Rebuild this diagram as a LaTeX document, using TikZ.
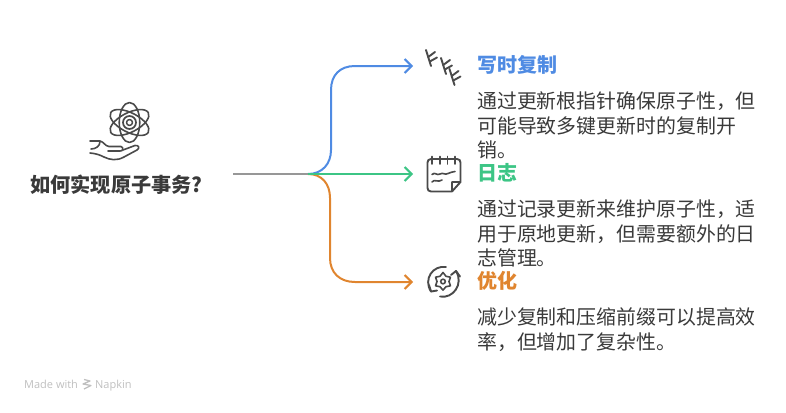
\documentclass[tikz,border=0pt]{standalone}
\usepackage{fontspec}
\setmainfont{Noto Sans CJK SC}
\newfontfamily\wm{Open Sans}
\usetikzlibrary{arrows.meta}
\definecolor{cblue}{HTML}{4F8BE3}
\definecolor{cgreen}{HTML}{3CC585}
\definecolor{corange}{HTML}{E0852F}
\definecolor{cgrey}{HTML}{979797}
\definecolor{ctext}{HTML}{3A3A3A}
\definecolor{cicon}{HTML}{4A4A4A}
\tikzset{
 conn/.style={line width=2pt,-{Straight Barb[length=7pt,width=14pt,line width=2pt]}},
 head/.style={anchor=west,font=\fontsize{20}{20}\selectfont\bfseries,inner sep=0pt},
 body/.style={anchor=north west,align=left,text=ctext,font=\fontsize{19.9}{24.6}\selectfont,inner sep=0pt},
 icon/.style={draw=cicon,line width=1.9pt,line cap=round,line join=round,fill=none},
 iconthin/.style={draw=cicon,line width=1.6pt,line cap=round,line join=round,fill=none},
}
\begin{document}
\begin{tikzpicture}[x=1pt,y=-1pt]
\useasboundingbox (0,0) rectangle (786,412);
\coordinate (src) at (233,174);
\coordinate (fork) at (308,174);
\coordinate (t1) at (413,66);
\coordinate (t2) at (413,174);
\coordinate (t3) at (413,282);
\draw[cgrey,line width=2pt] (src) -- (fork);
\draw[conn,draw=corange] (fork) .. controls (322,174) and (330,184) .. (330,198) -- (330,258) .. controls (330,273) and (340,282) .. (355,282) -- (t3);
\draw[conn,draw=cblue] (fork) .. controls (322,174) and (331,164) .. (331,150) -- (331,90) .. controls (331,75) and (340,66) .. (355,66) -- (t1);
\draw[conn,draw=cgreen] (fork) -- (t2);
\node[anchor=center,inner sep=0pt,text=ctext,font=\fontsize{20.2}{20}\selectfont\bfseries] (q) at (116.5,184.5) {如何实现原子事务?};
% atom icon
\begin{scope}[shift={(129.5,122.5)},xscale=1.08]
\foreach \a in {30,90,150}{\draw[icon,rotate=\a,line width=1.6pt] (0,0) ellipse (20 and 9.5);}
\end{scope}
\draw[icon,line width=1.7pt] (129.5,122.5) circle (6.5);
\draw[icon,line width=1.5pt] (129.5,122.5) circle (3);
% hand icon
\draw[icon,line width=1.6pt] (90,141) -- (100,141) .. controls (104,142) and (105,146) .. (109,146.5) -- (121,146.5) .. controls (124,147.5) and (123,151.5) .. (120,151) -- (108,151);
\draw[icon,line width=1.6pt] (123,150) -- (135,145.5) .. controls (139,145) and (140,148) .. (137,150) -- (124,157) .. controls (117,161) and (110,160) .. (104,157) .. controls (100,155) and (96,153.5) .. (90,153);
\draw[icon,line width=1.6pt] (100,141.5) .. controls (100,146) and (96,149) .. (91,149);
% barbs icon
\foreach \p/\q in {426/50,441/58,449.5/69}{
\begin{scope}[shift={(\p,\q)}]
\draw[icon] (0,0) -- (5,16);
\draw[icon] (2.2,7) -- (9,2);
\draw[icon] (3.8,11.5) -- (11,7.5);
\end{scope}}
% notepad icon
\draw[icon] (452,191.5) -- (431,191.5) .. controls (428.8,191.5) and (427.5,190) .. (427.5,188) -- (427.5,162.5) .. controls (427.5,160.5) and (428.8,159) .. (431,159) -- (457,159) .. controls (459.2,159) and (460.5,160.5) .. (460.5,162.5) -- (460.5,182) -- (452,191.5) -- (452,182) -- (460.5,182);
\foreach \x in {432,440,447.5,455}{\draw[icon] (\x,156.5) -- (\x,164);}
\draw[iconthin] (432,174.5) .. controls (435,171.5) and (437,176) .. (440,174) .. controls (443,172) and (445,175.5) .. (448,173.5) .. controls (450,172) and (452,172.5) .. (455,171.5);
\draw[iconthin] (432,182) .. controls (434.5,178.5) and (438,183) .. (442,180);
% gear cycle icon
\draw[icon] (446,267) .. controls (433,265) and (423,279) .. (431,291.5);
\draw[icon] (440,296.5) .. controls (453,299) and (464,284) .. (456,271);
\draw[icon] (429,285) -- (431,291.5) -- (437,290.5);
\draw[icon] (451,275) -- (456,271) -- (460,276.5);
\draw[iconthin] (443,281.5) circle (2.3);
\draw[iconthin] (443,272.5) \foreach \a/\r in {30/6,60/8.6,90/6,120/8.6,150/6,180/8.6,210/6,240/8.6,270/6,300/8.6,330/6}{ -- ++(0,0) -- ({443+\r*sin(\a)},{281.5-\r*cos(\a)})} -- cycle;
% texts
\node[head,text=cblue] (h1) at (477,65) {写时复制};
\node[body] (b1) at (477,91.5) {通过更新根指针确保原子性，但\\可能导致多键更新时的复制开\\销。};
\node[head,text=cgreen] (h2) at (477,173) {日志};
\node[body] (b2) at (477,199.5) {通过记录更新来维护原子性，适\\用于原地更新，但需要额外的日\\志管理。};
\node[head,text=corange] (h3) at (477,281) {优化};
\node[body] (b3) at (477,307.5) {减少复制和压缩前缀可以提高效\\率，但增加了复杂性。};
% watermark
\node[anchor=base west,inner sep=0pt,text=black!25,font=\wm\fontsize{11}{12}\selectfont] (wm1) at (24,388) {Made with};
\draw[black!25,line width=1.3pt,line join=round] (84,379.5) -- (90,381) -- (83,384) -- (91,385.5) -- (84,389);
\node[anchor=base west,inner sep=0pt,text=black!25,font=\wm\fontsize{11}{12}\selectfont] (wm2) at (95,388) {Napkin};
\end{tikzpicture}
\end{document}
